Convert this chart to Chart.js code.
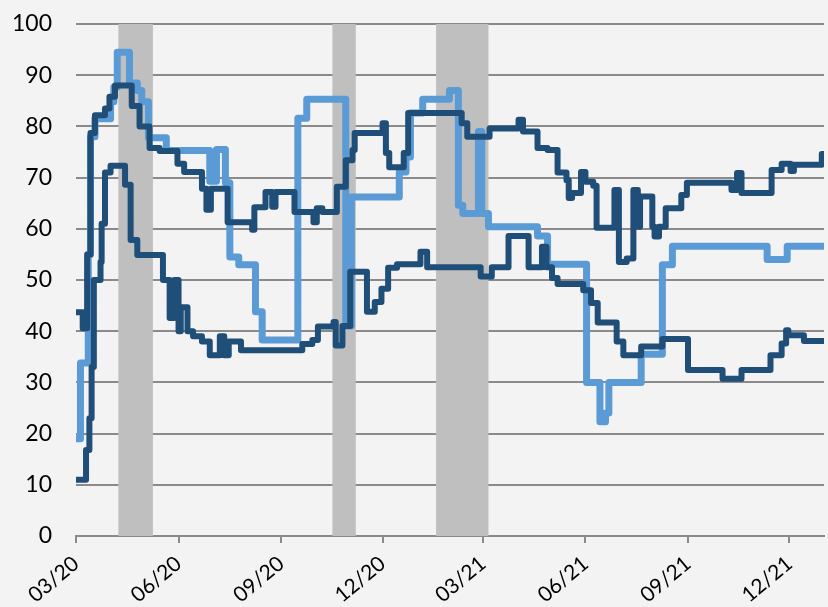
<!DOCTYPE html>
<html><head><meta charset="utf-8">
<script src="https://cdn.jsdelivr.net/npm/chart.js@4.4.1/dist/chart.umd.min.js"></script>
<style>html,body{margin:0;padding:0;background:#f3f3f3;} canvas{display:block;}</style>
</head><body>
<canvas id="c" width="828" height="607"></canvas>
<script>
// x values are days since 2020-03-01
const tickDays = [0, 92, 184, 275, 365, 457, 549, 640];
const tickLabels = ["03/20", "06/20", "09/20", "12/20", "03/21", "06/21", "09/21", "12/21"];
const endDay = 671;

// shaded periods [start day, end day]
const bandStarts = [38, 230, 323];
const bandEnds = [69, 251, 370];

const upperDays = [0,6,10,13,17,26,30,35,50,57,66,75,91,97,113,117,121,136,158,160,170,176,179,196,213,216,221,234,242,248,250,275,278,281,294,298,346,351,371,397,401,414,423,432,440,442,445,453,457,464,467,483,487,494,500,504,506,517,519,523,529,543,548,588,593,597,624,633,641,644,669,671];
const upperVals = [43.7,40.6,55,78.7,82.2,83.5,85.8,88,84,80,75.8,75.2,72.7,71.1,67.8,63.7,67.8,61.3,59.8,64.2,67.2,64.3,67.2,63.3,61.3,64,63.3,68.2,73.4,75.4,78.7,80.6,74.8,72,74.8,82.6,80.6,78,79.6,81.3,79,75.8,75.4,71,69.5,66,67,71.1,69.2,68.4,60.2,67.6,53.5,54.2,67.6,60.4,66.3,60.4,58.5,60.4,64,66.6,69,67.6,70.9,67,71.5,72.7,71.3,72.5,74.6,74.6];

const lowerDays = [0,9,12,14,16,22,23,26,31,44,49,55,78,84,88,92,94,100,105,113,120,129,133,137,148,203,212,217,231,233,239,246,261,268,274,280,288,309,315,363,373,388,406,418,422,427,432,455,462,468,485,491,507,526,549,580,597,623,633,637,639,653,671];
const lowerVals = [11,16.8,23,33,50,53.5,61,71,72.3,68.6,57.8,54.9,50,42.6,50,40,44.7,40,39,38,35.3,39,35.3,38,36.3,37.5,38.3,40.9,41.8,37.2,41,51.6,43.8,45.7,48.3,52.4,53.1,55.5,52.5,50.7,52.5,58.6,52.5,56.5,52.5,50.4,49.2,48,45.5,41.7,38,35.3,37,38.5,32.4,30.7,32.4,35.3,37.6,40.2,39.2,38.1,38.1];

const lightDays = [0,4,11,13,17,31,34,37,48,55,59,65,81,120,126,134,138,146,161,167,199,207,242,247,290,296,300,311,335,343,347,361,364,370,414,423,458,470,475,478,507,526,535,620,638,671];
const lightVals = [19,33.8,55,78,81.5,84.8,87.7,94.5,88.5,87,84.8,77.8,75.3,69.3,75.5,69,54.5,53,43.8,38.3,81.6,85.3,41,66.2,71.1,74,82.6,85.3,87,64.6,63,79,63,60.4,58.6,53.1,30,22.3,24,30,35.5,53,56.6,54,56.6,56.6];

const yTicksMin = 0, yTicksMax = 100, yStep = 10;

function pts(days, vals) { return days.map((d, i) => ({ x: d, y: vals[i] })); }

const bandPlugin = {
  id: 'bands',
  beforeDatasetsDraw(chart) {
    const { ctx, scales: { x, y } } = chart;
    ctx.save();
    ctx.fillStyle = '#bfbfbf';
    const yTop = y.getPixelForValue(yTicksMax), yBot = y.getPixelForValue(yTicksMin);
    bandStarts.forEach((s, i) => {
      const x0 = x.getPixelForValue(s), x1 = x.getPixelForValue(bandEnds[i]);
      ctx.fillRect(x0, yTop, x1 - x0, yBot - yTop);
    });
    ctx.restore();
  }
};

Chart.defaults.font.family = 'Lato';
new Chart(document.getElementById('c'), {
  type: 'line',
  data: {
    datasets: [
      { data: pts(upperDays, upperVals), borderColor: '#1f4e79', borderWidth: 6, stepped: 'before' },
      { data: pts(lowerDays, lowerVals), borderColor: '#1f4e79', borderWidth: 6, stepped: 'before' },
      { data: pts(lightDays, lightVals), borderColor: '#5b9bd5', borderWidth: 7, stepped: 'before' }
    ]
  },
  options: {
    responsive: false,
    animation: false,
    events: [],
    layout: { padding: { top: 24, right: 4, left: 0, bottom: 0 } },
    elements: { point: { radius: 0 }, line: { tension: 0, borderJoinStyle: 'round', borderCapStyle: 'round', fill: false } },
    plugins: { legend: { display: false }, tooltip: { enabled: false } },
    scales: {
      x: {
        type: 'linear', min: 0, max: endDay,
        afterBuildTicks: (s) => { s.ticks = tickDays.map(v => ({ value: v })); },
        afterFit: (s) => { s.height = 71; },
        grid: { drawOnChartArea: false, drawTicks: true, tickLength: 7, color: '#8a8a8a', lineWidth: 2 },
        border: { display: true, color: '#8a8a8a', width: 2 },
        ticks: {
          autoSkip: false, maxRotation: 40, minRotation: 40, padding: 8,
          color: '#000', font: { size: 21 },
          callback: (v) => { const i = tickDays.indexOf(v); return i >= 0 ? tickLabels[i] : ''; }
        }
      },
      y: {
        min: yTicksMin, max: yTicksMax,
        afterFit: (s) => { s.width = 76; },
        grid: { drawTicks: true, tickLength: 24, tickColor: 'rgba(0,0,0,0)', color: '#8a8a8a', lineWidth: 2 },
        border: { display: false },
        ticks: { stepSize: yStep, padding: 0, color: '#000', font: { size: 23 } }
      }
    }
  },
  plugins: [bandPlugin]
});
</script></body></html>
